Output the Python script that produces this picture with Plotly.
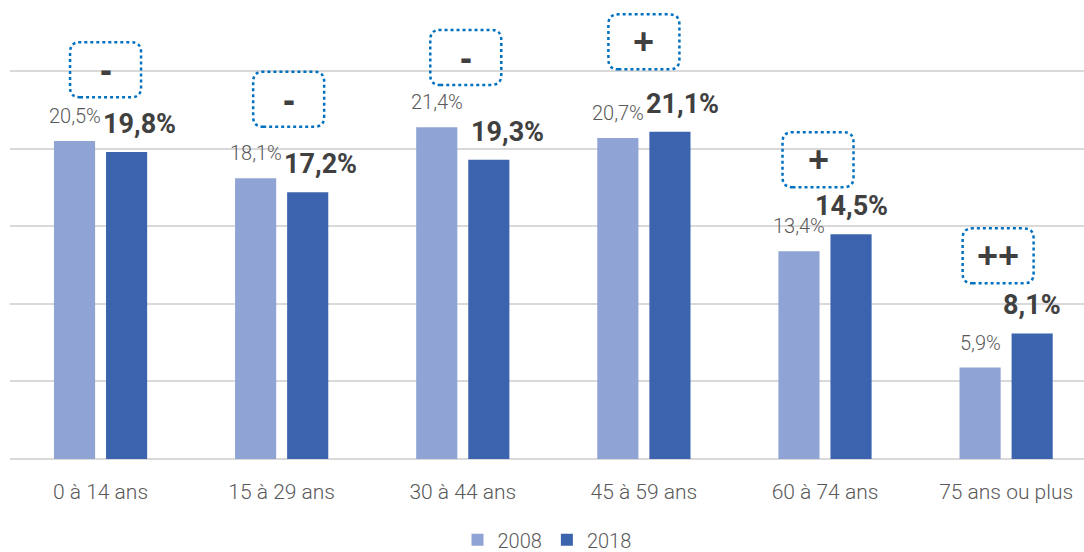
import plotly.graph_objects as go

categories = ["0 à 14 ans", "15 à 29 ans", "30 à 44 ans", "45 à 59 ans", "60 à 74 ans", "75 ans ou plus"]
values_2008 = [20.5, 18.1, 21.4, 20.7, 13.4, 5.9]
values_2018 = [19.8, 17.2, 19.3, 21.1, 14.5, 8.1]
trend_symbols = ["-", "-", "-", "+", "+", "++"]

# layout helpers (not data)
box_y = [25.1, 23.2, 25.9, 26.9, 19.3, 13.1]
box_dx = [5, 7, 3, 0, -7, -8]
dark_label_dx = [13, 13, 19, 13, 0, 0]

LIGHT = "#8FA4D4"
DARK = "#3C63AD"
FONT = "Roboto, sans-serif"
TXT = "#595959"

def fmt(v):
    return f"{v:.1f}".replace(".", ",") + "%"

fig = go.Figure()
fig.add_trace(go.Bar(name="2008", x=categories, y=values_2008, marker_color=LIGHT,
                     marker_line_width=0))
fig.add_trace(go.Bar(name="2018", x=categories, y=values_2018, marker_color=DARK,
                     marker_line_width=0))

annotations = []
shapes = []
for i, cat in enumerate(categories):
    annotations.append(dict(x=i, y=values_2008[i], xref="x", yref="y", text=fmt(values_2008[i]),
                            showarrow=False, xshift=-26, yshift=25, yanchor="middle",
                            font=dict(family=FONT, size=20, color=TXT, weight=300)))
    annotations.append(dict(x=i, y=values_2018[i], xref="x", yref="y",
                            text=fmt(values_2018[i]),
                            showarrow=False, xshift=26 + dark_label_dx[i], yshift=28, yanchor="middle",
                            font=dict(family=FONT, size=27, color="#404040", weight=700)))
    # rounded dotted box
    w, h, r = 71, 55, 10
    cx = box_dx[i]
    x0, x1 = cx - w / 2, cx + w / 2
    y0, y1 = -h / 2, h / 2
    path = (f"M {x0 + r},{y0} L {x1 - r},{y0} Q {x1},{y0} {x1},{y0 + r} "
            f"L {x1},{y1 - r} Q {x1},{y1} {x1 - r},{y1} L {x0 + r},{y1} "
            f"Q {x0},{y1} {x0},{y1 - r} L {x0},{y0 + r} Q {x0},{y0} {x0 + r},{y0} Z")
    shapes.append(dict(type="path", xref="x", yref="y", xsizemode="pixel", ysizemode="pixel",
                       xanchor=i, yanchor=box_y[i], path=path,
                       line=dict(color="#0070C0", width=2.5, dash="dot")))
    annotations.append(dict(x=i, y=box_y[i], xref="x", yref="y", text=trend_symbols[i],
                            showarrow=False, xshift=box_dx[i], yshift=0, yanchor="middle",
                            font=dict(family="Liberation Sans, Arial, sans-serif", size=36,
                                      color="#404040", weight=700)))

fig.update_layout(
    width=1084, height=552,
    margin=dict(l=10, r=0, t=0, b=93, autoexpand=False),
    paper_bgcolor="white", plot_bgcolor="white",
    barmode="group", bargap=0.425, bargroupgap=0.21,
    showlegend=True,
    legend=dict(orientation="h", x=0.5, xanchor="center", y=-0.176, yanchor="middle",
                font=dict(family=FONT, size=20, color=TXT, weight=300), traceorder="normal",
                itemwidth=30),
    xaxis=dict(type="category", range=[-0.5, 5.43], showgrid=False, showline=False, ticks="",
               ticklabelstandoff=18, automargin=False,
               tickfont=dict(family=FONT, size=21, color=TXT, weight=300)),
    yaxis=dict(range=[0, 29.6], dtick=5, showgrid=True, gridcolor="#D9D9D9", gridwidth=1.5,
               zeroline=True, zerolinecolor="#D9D9D9", zerolinewidth=1.5, automargin=False,
               showticklabels=False, ticks=""),
    annotations=annotations, shapes=shapes,
)

fig.write_html("out.html", config={"displayModeBar": False},
               post_script="document.body.style.margin='0';document.body.style.padding='0';"
                           "document.body.style.overflow='hidden';")
